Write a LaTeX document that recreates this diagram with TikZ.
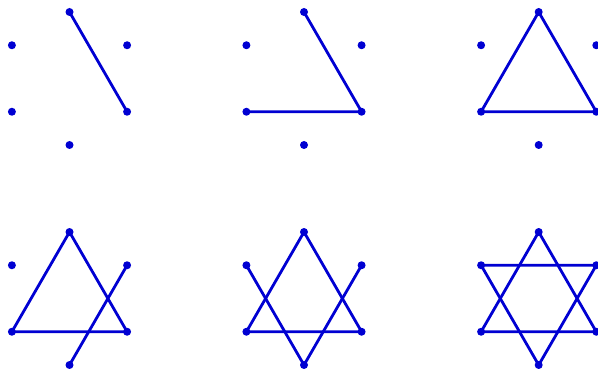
\documentclass[tikz,border=0pt]{standalone}
\definecolor{dotblue}{RGB}{0,0,210}
\tikzset{
  dot/.style={circle,fill=dotblue,inner sep=0pt,minimum size=8pt},
  seg/.style={draw=dotblue,line width=2.8pt,line cap=round,line join=round}
}
\newcommand{\hexdots}[3]{%
  \node[dot] (#1t)  at (#2,#3-66.5) {};
  \node[dot] (#1ul) at (#2-57.6,#3-33.25) {};
  \node[dot] (#1ur) at (#2+57.6,#3-33.25) {};
  \node[dot] (#1ll) at (#2-57.6,#3+33.25) {};
  \node[dot] (#1lr) at (#2+57.6,#3+33.25) {};
  \node[dot] (#1b)  at (#2,#3+66.5) {};
}
\begin{document}
\begin{tikzpicture}[x=1pt,y=-1pt]
\useasboundingbox (0,0) rectangle (598,369);
\hexdots{a}{69.5}{78.5}
\hexdots{b}{304}{78.5}
\hexdots{c}{538.7}{78.5}
\hexdots{d}{69.5}{298.5}
\hexdots{e}{304}{298.5}
\hexdots{f}{538.7}{298.5}
% panel 1
\draw[seg] (at.center) -- (alr.center);
% panel 2
\draw[seg] (bt.center) -- (blr.center) -- (bll.center);
% panel 3
\draw[seg] (ct.center) -- (clr.center) -- (cll.center) -- cycle;
% panel 4
\draw[seg] (dt.center) -- (dlr.center) -- (dll.center) -- cycle;
\draw[seg] (db.center) -- (dur.center);
% panel 5
\draw[seg] (et.center) -- (elr.center) -- (ell.center) -- cycle;
\draw[seg] (eul.center) -- (eb.center) -- (eur.center);
% panel 6
\draw[seg] (ft.center) -- (flr.center) -- (fll.center) -- cycle;
\draw[seg] (ful.center) -- (fb.center) -- (fur.center) -- cycle;
\end{tikzpicture}
\end{document}
